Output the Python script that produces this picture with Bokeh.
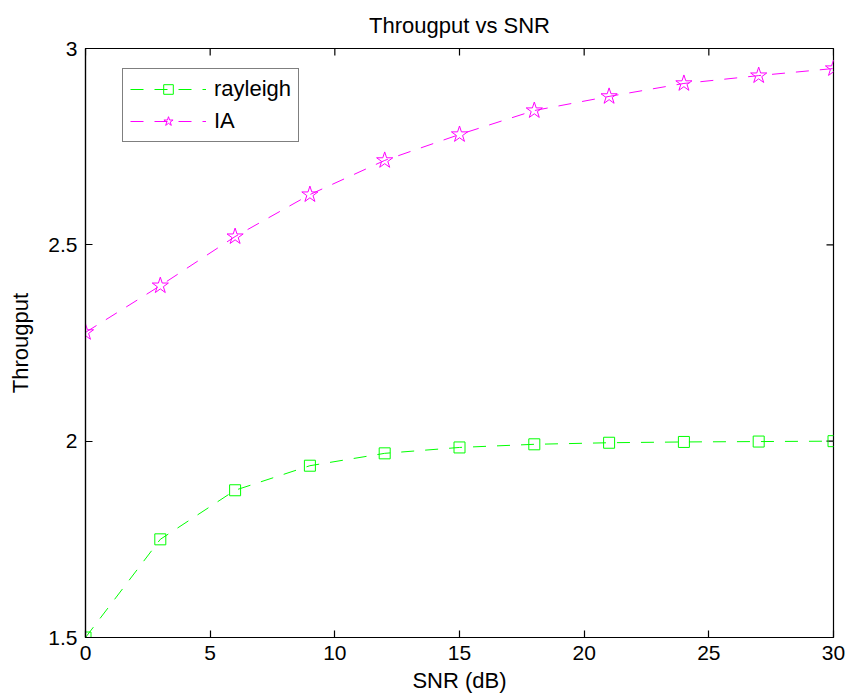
from bokeh.plotting import figure
from bokeh.models import (Range1d, FixedTicker, LinearAxis, CustomJSTickFormatter,
                          Legend, LegendItem, Title)
from bokeh.embed import file_html
from bokeh.resources import INLINE
import math

snr_db = [0, 3, 6, 9, 12, 15, 18, 21, 24, 27, 30]
rayleigh = [1.5, 1.75, 1.875, 1.9375, 1.969, 1.984, 1.992, 1.996, 1.998, 1.999, 2.0]
ia = [2.277, 2.396, 2.521, 2.628, 2.715, 2.781, 2.842, 2.878, 2.911, 2.931, 2.949]
x_ticks = [0, 5, 10, 15, 20, 25, 30]
y_ticks = [1.5, 2, 2.5, 3]
x_lim = (0, 30)
y_lim = (1.5, 3)

FONT = "Liberation Sans"
FS = "21px"

p = figure(width=849, height=700, output_backend="svg", toolbar_location=None,
           x_range=Range1d(*x_lim), y_range=Range1d(*y_lim),
           min_border_left=85, min_border_right=16, min_border_top=48,
           min_border_bottom=63, x_axis_location=None, y_axis_location=None)
p.title = None
p.background_fill_color = "white"
p.border_fill_color = "white"
p.grid.visible = False
p.outline_line_color = "black"
p.outline_line_width = 1.2

fmt = CustomJSTickFormatter(code="return String(tick);")

def style(ax):
    ax.major_tick_in = 7
    ax.major_tick_out = 0
    ax.minor_tick_in = 0
    ax.minor_tick_out = 0
    ax.axis_line_color = "black"
    ax.axis_line_width = 1.2
    ax.major_tick_line_color = "black"
    ax.major_tick_line_width = 1.2
    ax.major_label_text_font = FONT
    ax.major_label_text_color = "black"
    ax.major_label_text_font_size = FS
    ax.major_label_standoff = 8
    ax.axis_label_text_font = FONT
    ax.axis_label_text_font_style = "normal"
    ax.axis_label_text_font_size = "22px"
    ax.axis_label_text_color = "black"

xb = LinearAxis(ticker=FixedTicker(ticks=x_ticks), formatter=fmt, axis_label="SNR (dB)")
style(xb)
xb.axis_label_standoff = 5
yl = LinearAxis(ticker=FixedTicker(ticks=y_ticks), formatter=fmt, axis_label="Througput")
style(yl)
yl.axis_label_standoff = 12
p.add_layout(xb, "below")
p.add_layout(yl, "left")

# inward ticks on the top and right edges of the box (clipped to the frame)
p.scatter(x_ticks, [y_lim[1]] * len(x_ticks), marker="dash", size=14,
          angle=math.pi / 2, line_color="black", line_width=1.2)
p.scatter([x_lim[1]] * len(y_ticks), y_ticks, marker="dash", size=14,
          line_color="black", line_width=1.2)

green = "#00ff00"
magenta = "#ff00ff"
dash = "13 11"

r1l = p.line(snr_db, rayleigh, line_color=green, line_width=1, line_dash=dash)
r1m = p.scatter(snr_db, rayleigh, marker="square", size=11, fill_color=None,
                line_color=green, line_width=1)
r2l = p.line(snr_db, ia, line_color=magenta, line_width=1, line_dash=dash)
r2m = p.scatter(snr_db, ia, marker="star", size=17, fill_color=None,
                line_color=magenta, line_width=1)

legend = Legend(items=[LegendItem(label="rayleigh", renderers=[r1l, r1m]),
                       LegendItem(label="IA", renderers=[r2l, r2m])],
                location=(37, 495))
legend.label_text_font = FONT
legend.label_text_font_size = "22px"
legend.label_text_color = "black"
legend.glyph_width = 76
legend.glyph_height = 24
legend.label_height = 24
legend.spacing = 6
legend.padding = 7
legend.margin = 0
legend.label_standoff = 8
legend.border_line_color = "black"
legend.border_line_width = 1.2
legend.background_fill_color = "white"
legend.background_fill_alpha = 1
p.add_layout(legend, "center")

t = Title(text="Througput vs SNR", align="center", text_font=FONT,
          text_font_size="22px", text_font_style="normal", text_color="black",
          standoff=17, vertical_align="top")
p.add_layout(t, "above")

open("out.html", "w").write(file_html(p, INLINE))
